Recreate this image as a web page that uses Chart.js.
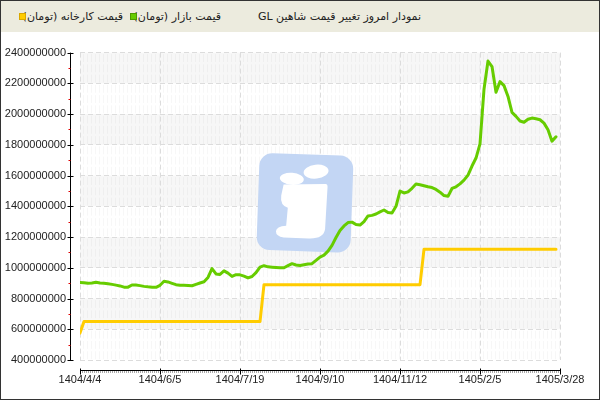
<!DOCTYPE html>
<html>
<head>
<meta charset="utf-8">
<script src="https://cdn.jsdelivr.net/npm/chart.js@4"></script>
<style>
  html, body { margin: 0; padding: 0; background: #fff; }
  #wrap { position: relative; width: 600px; height: 400px; box-sizing: border-box; border: 1px solid #333; background: #fff; overflow: hidden; }
  #head { position: absolute; left: 0; top: 0; width: 598px; height: 31px; background: #ecebde; font-family: "DejaVu Sans", sans-serif; font-size: 11px; color: #222; }
  .t { position: absolute; top: 9px; white-space: nowrap; direction: rtl; line-height: 14px; }
  .sq { position: absolute; top: 13px; width: 5px; height: 5px; }
  #cv { position: absolute; left: 0; top: 31px; }
</style>
</head>
<body>
<div id="wrap">
  <div id="head">
    <span class="t" id="title" style="right:178px">نمودار امروز تغییر قیمت شاهین GL</span>
    <span class="t" id="lg1" style="right:378px">قیمت بازار (تومان)</span>
    <span class="sq" id="sq1" style="left:130px"></span>
    <span class="t" id="lg2" style="right:476px">قیمت کارخانه (تومان)</span>
    <span class="sq" id="sq2" style="left:19px"></span>
  </div>
  <canvas id="cv" width="598" height="367"></canvas>
</div>
<script>
// ---- data (values in millions of toman) ----
const UNIT = 1000000;
const dateLabels = ['1404/4/4', '1404/6/5', '1404/7/19', '1404/9/10', '1404/11/12', '1405/2/5', '1405/3/28'];
const marketName = 'قیمت بازار (تومان)';
const factoryName = 'قیمت کارخانه (تومان)';
const marketColor = '#66cc00';
const factoryColor = '#ffcc00';
const marketPrice = [
  905, 903, 899, 901, 906, 901, 899, 896, 892, 887,
  882, 874, 874, 888, 888, 884, 879, 876, 874, 873,
  886, 912, 908, 899, 890, 887, 886, 885, 883, 892,
  901, 909, 937, 995, 960, 957, 980, 965, 944, 955,
  954, 946, 934, 943, 968, 1004, 1014, 1006, 1004, 1002,
  1000, 1000, 1014, 1027, 1018, 1015, 1020, 1025, 1027, 1048,
  1070, 1082, 1108, 1146, 1197, 1243, 1272, 1294, 1297, 1281,
  1278, 1301, 1337, 1341, 1350, 1364, 1376, 1359, 1357, 1400,
  1499, 1487, 1494, 1517, 1545, 1540, 1534, 1527, 1522, 1510,
  1492, 1470, 1465, 1516, 1527, 1546, 1570, 1603, 1662, 1714,
  1806, 2161, 2345, 2309, 2142, 2211, 2185, 2115, 2011, 1985,
  1955, 1947, 1966, 1974, 1970, 1963, 1941, 1898, 1824, 1852
];
const factoryPrice = [
  575, 650, 650, 650, 650, 650, 650, 650, 650, 650,
  650, 650, 650, 650, 650, 650, 650, 650, 650, 650,
  650, 650, 650, 650, 650, 650, 650, 650, 650, 650,
  650, 650, 650, 650, 650, 650, 650, 650, 650, 650,
  650, 650, 650, 650, 650, 650, 890, 890, 890, 890,
  890, 890, 890, 890, 890, 890, 890, 890, 890, 890,
  890, 890, 890, 890, 890, 890, 890, 890, 890, 890,
  890, 890, 890, 890, 890, 890, 890, 890, 890, 890,
  890, 890, 890, 890, 890, 890, 1120, 1120, 1120, 1120,
  1120, 1120, 1120, 1120, 1120, 1120, 1120, 1120, 1120, 1120,
  1120, 1120, 1120, 1120, 1120, 1120, 1120, 1120, 1120, 1120,
  1120, 1120, 1120, 1120, 1120, 1120, 1120, 1120, 1120, 1120
];
const yMin = 400000000, yMax = 2400000000, yStep = 200000000;
const xMax = 120, xStep = 20;

document.getElementById('sq1').style.cssText += ';background:' + marketColor + ';box-shadow:0 0 0 1px #4c9a00';
document.getElementById('sq2').style.cssText += ';background:' + factoryColor + ';box-shadow:0 0 0 1px #d9a800';

const toPts = arr => arr.map((v, i) => ({ x: i, y: v * UNIT }));

// background bands + hatch
const bandsPlugin = {
  id: 'bands',
  beforeDraw(chart) {
    const { ctx, chartArea: a, scales: { y } } = chart;
    ctx.save();
    let k = 0;
    for (let v = yMax; v > yMin; v -= yStep, k++) {
      const t = y.getPixelForValue(v), b = y.getPixelForValue(v - yStep);
      if (k % 2 === 0) { ctx.fillStyle = '#f7f7f7'; ctx.fillRect(a.left, t, a.right - a.left, b - t); }
    }
    ctx.strokeStyle = 'rgba(0,0,0,0.03)';
    ctx.lineWidth = 1;
    const band = y.getPixelForValue(yMax - yStep) - y.getPixelForValue(yMax);
    ctx.setLineDash([band / 3 - 2.3, 2.3]);
    for (let x = a.left + 3.5; x < a.right; x += 4) {
      ctx.beginPath(); ctx.moveTo(x, a.top + 1.5); ctx.lineTo(x, a.bottom); ctx.stroke();
    }
    ctx.restore();
  }
};

// watermark logo
const logoPlugin = {
  id: 'logo',
  beforeDatasetsDraw(chart) {
    const { ctx, chartArea: a } = chart;
    const cx = (a.left + a.right) / 2 - 15, cy = (a.top + a.bottom) / 2 - 4;
    ctx.save();
    ctx.translate(cx, cy);
    ctx.rotate(2 * Math.PI / 180);
    ctx.fillStyle = '#c3d6f4';
    ctx.beginPath();
    ctx.roundRect(-47, -48, 94, 97, 13);
    ctx.fill();
    ctx.fillStyle = '#ffffff';
    ctx.beginPath(); ctx.ellipse(10, -31, 12.5, 7, -0.15, 0, Math.PI * 2); ctx.fill();
    ctx.beginPath(); ctx.ellipse(-14, -23, 12, 6, 0.05, 0, Math.PI * 2); ctx.fill();
    ctx.beginPath();
    ctx.moveTo(-22, -17);
    ctx.lineTo(20, -19);
    ctx.quadraticCurveTo(22, -19, 22, -16);
    ctx.lineTo(21, 26);
    ctx.quadraticCurveTo(20, 36, 5, 36);
    ctx.lineTo(-20, 36);
    ctx.quadraticCurveTo(-28, 35, -28, 30);
    ctx.quadraticCurveTo(-28, 25, -18, 24);
    ctx.lineTo(-17, 6);
    ctx.quadraticCurveTo(-25, 4, -24, -6);
    ctx.closePath();
    ctx.fill();
    ctx.restore();
  }
};

// detached axes
const axesPlugin = {
  id: 'axes',
  afterDraw(chart) {
    const { ctx, chartArea: a, scales: { x, y } } = chart;
    ctx.save();
    const ax = a.left - 9.5;
    ctx.strokeStyle = '#000'; ctx.lineWidth = 1;
    ctx.beginPath(); ctx.moveTo(ax, y.getPixelForValue(yMax)); ctx.lineTo(ax, y.getPixelForValue(yMin) + 0.5); ctx.stroke();
    for (let v = yMin; v <= yMax; v += yStep) {
      const p = Math.round(y.getPixelForValue(v)) + 0.5;
      ctx.beginPath(); ctx.moveTo(ax - 3, p); ctx.lineTo(ax + 3, p); ctx.stroke();
    }
    ctx.strokeStyle = '#e00000';
    for (let v = yMin + yStep / 2; v < yMax; v += yStep) {
      const p = Math.round(y.getPixelForValue(v)) + 0.5;
      ctx.beginPath(); ctx.moveTo(ax - 2, p); ctx.lineTo(ax, p); ctx.stroke();
    }
    const ay = a.bottom + 10.5;
    ctx.strokeStyle = '#000';
    ctx.beginPath(); ctx.moveTo(x.getPixelForValue(0), ay); ctx.lineTo(x.getPixelForValue(xMax) + 1, ay); ctx.stroke();
    ctx.strokeStyle = '#aaa';
    for (let t = 0; t <= xMax; t += 0.5) {
      const p = Math.round(x.getPixelForValue(t)) + 0.5;
      ctx.beginPath(); ctx.moveTo(p, ay + 0.5); ctx.lineTo(p, ay + 2.5); ctx.stroke();
    }
    ctx.strokeStyle = '#000';
    for (let t = 0; t <= xMax; t += xStep) {
      const p = Math.round(x.getPixelForValue(t)) + 0.5;
      ctx.beginPath(); ctx.moveTo(p, ay - 2); ctx.lineTo(p, ay + 4); ctx.stroke();
    }
    ctx.restore();
  }
};

Chart.defaults.font.family = '"Liberation Sans", Arial, sans-serif';
Chart.defaults.font.size = 11;
Chart.defaults.color = '#222';

new Chart(document.getElementById('cv'), {
  type: 'line',
  data: {
    datasets: [
      { label: factoryName, data: toPts(factoryPrice), borderColor: factoryColor, borderWidth: 3, pointRadius: 0, tension: 0, borderJoinStyle: 'round', borderCapStyle: 'round' },
      { label: marketName, data: toPts(marketPrice), borderColor: marketColor, borderWidth: 3, pointRadius: 0, tension: 0, borderJoinStyle: 'round', borderCapStyle: 'round' }
    ]
  },
  options: {
    responsive: false,
    animation: false,
    devicePixelRatio: 1,
    layout: { padding: { left: 0, right: 39, top: 19, bottom: 0 } },
    plugins: { legend: { display: false }, tooltip: { enabled: false }, title: { display: false } },
    scales: {
      x: {
        type: 'linear', min: 0, max: xMax,
        afterFit(s) { s.height = 39; },
        grid: { color: '#dcdcdc', drawTicks: false, lineWidth: 1 },
        border: { display: false, dash: [5, 3] },
        ticks: { stepSize: xStep, padding: 13, maxRotation: 0, autoSkip: false, color: '#222',
          callback: v => dateLabels[Math.round(v / xStep)] }
      },
      y: {
        type: 'linear', min: yMin, max: yMax,
        afterFit(s) { s.width = 79; },
        grid: { color: '#dcdcdc', drawTicks: false, lineWidth: 1 },
        border: { display: false, dash: [5, 3] },
        ticks: { stepSize: yStep, padding: 14, color: '#222', callback: v => String(v) }
      }
    }
  },
  plugins: [bandsPlugin, logoPlugin, axesPlugin]
});
</script>
</body>
</html>
